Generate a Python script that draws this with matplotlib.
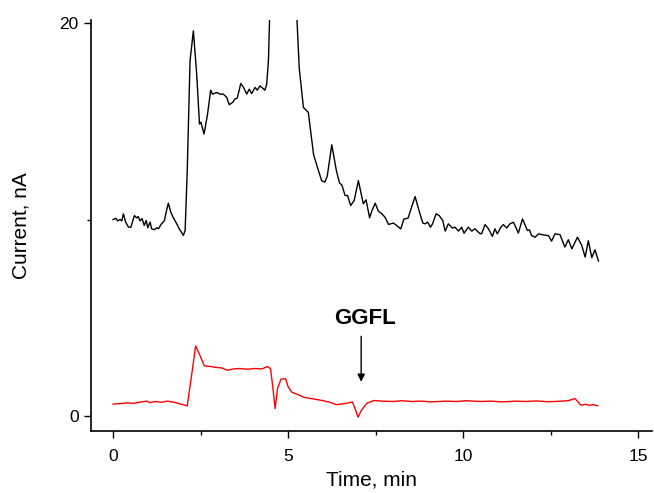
import numpy as np
import matplotlib.pyplot as plt

plt.rcParams['font.family'] = ['Liberation Sans', 'DejaVu Sans']

# black trace (time in min, current in nA)
t_black = [0.00, 0.08, 0.13, 0.20, 0.25, 0.295, 0.36, 0.44, 0.51, 0.61, 0.68, 0.72,
           0.77, 0.83, 0.89, 0.95, 0.99, 1.06, 1.10, 1.18, 1.25, 1.30, 1.37, 1.47,
           1.51, 1.58, 1.65, 1.72, 1.82, 1.89, 2.01, 2.06, 2.12, 2.20, 2.295,
           2.39, 2.47, 2.51, 2.60, 2.70, 2.79, 2.84, 2.96, 3.06, 3.15, 3.25, 3.32,
           3.42, 3.48, 3.55, 3.65, 3.73, 3.82, 3.89, 3.96, 4.06, 4.12, 4.20, 4.27,
           4.34, 4.39, 4.44, 4.50,
           4.85, 5.22, 5.26, 5.32, 5.44, 5.58, 5.73, 5.85, 5.96, 6.05, 6.12, 6.25,
           6.38, 6.47, 6.54, 6.63, 6.70, 6.79, 6.89, 7.01, 7.15, 7.23, 7.33, 7.40,
           7.49, 7.58, 7.68, 7.77, 7.87, 8.01, 8.10, 8.22, 8.31, 8.43, 8.63, 8.77,
           8.85, 8.92, 8.99, 9.07, 9.13, 9.23, 9.32, 9.42, 9.49, 9.58, 9.70, 9.77,
           9.87, 9.96, 10.03, 10.15, 10.25, 10.34, 10.47, 10.53, 10.63, 10.73, 10.84,
           10.91, 10.98, 11.08, 11.15, 11.25, 11.34, 11.44, 11.50, 11.58, 11.70,
           11.77, 11.84, 11.90, 11.96, 12.06, 12.16, 12.25, 12.44, 12.53, 12.63,
           12.77, 12.91, 13.01, 13.11, 13.27, 13.39, 13.49, 13.58, 13.68, 13.77, 13.87]
i_black = [10.00, 10.06, 9.93, 10.00, 9.93, 10.29, 9.87, 9.61, 9.61, 10.20, 10.08, 10.15,
           9.93, 10.05, 9.70, 9.95, 9.58, 9.87, 9.53, 9.48, 9.58, 9.53, 9.75, 9.95,
           10.32, 10.83, 10.37, 10.10, 9.78, 9.53, 9.19, 9.45, 12.50, 18.07, 19.60,
           17.40, 14.86, 14.95, 14.35, 15.36, 16.58, 16.38, 16.46, 16.38, 16.38, 16.21, 15.84,
           15.96, 16.13, 16.18, 16.92, 16.72, 16.38, 16.63, 16.41, 16.72, 16.58, 16.80, 16.69,
           16.58, 16.88, 18.07, 22.00,
           40.00, 22.00, 20.00, 17.70, 15.70, 15.45, 13.30, 12.60, 11.98, 11.90, 12.20, 13.80,
           12.50, 11.86, 11.75, 11.22, 11.22, 10.71, 10.97, 11.98, 10.80, 11.00, 10.09, 10.46,
           10.83, 10.43, 10.29, 10.12, 9.75, 9.82, 9.70, 9.52, 10.02, 10.07, 11.17, 10.29,
           9.82, 9.78, 9.87, 9.61, 9.78, 10.29, 10.20, 9.95, 9.41, 9.78, 9.56, 9.61,
           9.41, 9.61, 9.30, 9.61, 9.41, 9.53, 9.30, 9.27, 9.74, 9.52, 9.14,
           9.53, 9.27, 9.61, 9.74, 9.57, 9.78, 9.86, 9.64, 9.31, 10.03,
           9.74, 9.44, 9.47, 9.18, 9.10, 9.27, 9.23, 9.18, 8.90, 9.27,
           9.23, 8.60, 8.97, 8.51, 9.10, 8.69, 8.09, 8.92, 8.06, 8.46, 7.89]

# red trace
t_red = [0.00, 0.20, 0.40, 0.60, 0.80, 0.97, 1.05, 1.20, 1.40, 1.54, 1.75, 1.95,
         2.12, 2.25, 2.36, 2.48, 2.61, 2.80, 2.91, 3.10, 3.27, 3.45, 3.62, 3.85,
         4.04, 4.25, 4.42, 4.50, 4.57, 4.63, 4.70, 4.80, 4.93, 5.00, 5.11, 5.30,
         5.46, 5.70, 5.98, 6.20, 6.38, 6.55, 6.68, 6.84, 6.92, 7.00, 7.10, 7.25,
         7.45, 7.70, 8.00, 8.25, 8.53, 8.80, 9.10, 9.50, 9.80, 10.10, 10.50, 10.80,
         11.10, 11.50, 11.80, 12.10, 12.40, 12.61, 12.80, 13.00, 13.20, 13.37,
         13.50, 13.60, 13.72, 13.85]
i_red = [0.61, 0.63, 0.67, 0.65, 0.72, 0.76, 0.68, 0.74, 0.70, 0.76, 0.70, 0.60,
         0.52, 2.15, 3.57, 3.10, 2.55, 2.52, 2.48, 2.45, 2.33, 2.40, 2.42, 2.38,
         2.42, 2.40, 2.52, 2.40, 1.40, 0.38, 1.40, 1.88, 1.90, 1.50, 1.21, 1.08,
         0.95, 0.88, 0.79, 0.70, 0.58, 0.62, 0.65, 0.72, 0.35, -0.05, 0.30, 0.65,
         0.79, 0.76, 0.74, 0.78, 0.74, 0.76, 0.72, 0.76, 0.74, 0.78, 0.74, 0.76,
         0.72, 0.76, 0.74, 0.77, 0.73, 0.74, 0.76, 0.78, 0.89, 0.55, 0.60, 0.55,
         0.58, 0.52]

fig = plt.figure(figsize=(6.54, 4.93), dpi=100)
ax = fig.add_axes([91/654, 62/493, 561/654, 411/493])

ax.plot(t_black, i_black, color='black', lw=1)
ax.plot(t_red, i_red, color='red', lw=1)

ax.annotate('', xy=(7.09, 1.6), xytext=(7.09, 4.2),
            arrowprops=dict(arrowstyle='-|>', color='black', lw=1, mutation_scale=11))
ax.text(7.2, 4.7, 'GGFL', ha='center', va='baseline', fontsize=16, fontweight='bold')

ax.set_xlim(-0.63, 15.4)
ax.set_ylim(-0.76, 20.15)
ax.set_xticks([0, 5, 10, 15])
ax.set_xticks([2.5, 7.5, 12.5], minor=True)
ax.set_yticks([0, 20])
ax.set_yticks([10], minor=True)
ax.tick_params(which='major', direction='out', length=5, width=1, labelsize=12.5)
ax.tick_params(axis='x', which='major', pad=8)
ax.tick_params(axis='y', which='major', pad=4)
ax.tick_params(which='minor', direction='out', length=3, width=1)
for s in ['top', 'right']:
    ax.spines[s].set_visible(False)
for s in ['left', 'bottom']:
    ax.spines[s].set_linewidth(1.2)

ax.set_xlabel('Time, min', fontsize=15, labelpad=5)
ax.set_ylabel('Current, nA', fontsize=15, labelpad=21)

fig.savefig('out.png', dpi=100)
